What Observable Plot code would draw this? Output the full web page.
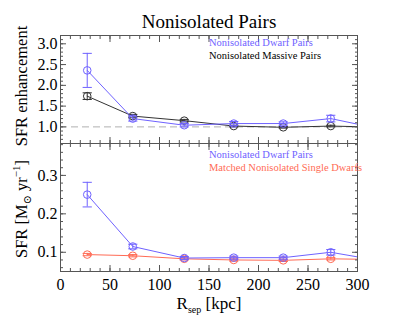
<!DOCTYPE html>
<html><head><meta charset="utf-8">
<script src="https://cdn.jsdelivr.net/npm/d3@7"></script>
<script src="https://cdn.jsdelivr.net/npm/@observablehq/plot@0.6"></script>
<style>
body{margin:0;background:#fff;}
#c{position:relative;width:402px;height:319px;font-family:'Liberation Serif','DejaVu Serif',serif;overflow:hidden;}
#c svg{position:absolute;left:0;overflow:visible;background:none;}
.t{position:absolute;white-space:nowrap;line-height:1;font-family:'Liberation Serif','DejaVu Serif',serif;}
</style></head><body><div id="c"></div>
<script>
// Data
const rsep = [27, 73, 125, 175, 225, 273, 327];
const dwarfEnh = [2.36, 1.20, 1.04, 1.08, 1.08, 1.20, 0.93];
const dwarfEnhErr = [0.41, 0.06, 0.04, 0.05, 0.04, 0.08, 0.05];
const massiveEnh = [1.74, 1.26, 1.15, 1.02, 0.99, 1.02, 0.99];
const massiveEnhErr = [0.08, 0.04, 0.03, 0.02, 0.02, 0.02, 0.02];
const dwarfSFR = [0.250, 0.115, 0.085, 0.086, 0.086, 0.100, 0.076];
const dwarfSFRErr = [0.032, 0.006, 0.004, 0.004, 0.004, 0.007, 0.004];
const singleSFR = [0.094, 0.091, 0.083, 0.080, 0.079, 0.083, 0.081];
const singleSFRErr = [0.003, 0.003, 0.003, 0.003, 0.003, 0.003, 0.003];
const xTicks = [0, 50, 100, 150, 200, 250, 300];
const topYTicks = [1.0, 1.5, 2.0, 2.5, 3.0];
const botYTicks = [0.1, 0.2, 0.3];

const BLUE = "#6f62ff", RED = "#ff6b55", BLACK = "#333", FRAME = "#555";
const FONT = "'Liberation Serif', 'DejaVu Serif', serif";

const rows = (ys, es) => rsep.map((x, i) => ({x, y: ys[i], lo: ys[i] - es[i], hi: ys[i] + es[i]}));
const cap = {draw(ctx, size) { const w = Math.sqrt(size) ; ctx.moveTo(-w, 0); ctx.lineTo(w, 0); }};

function series(data, color) {
  return [
    Plot.line(data, {x: "x", y: "y", stroke: color, strokeWidth: 1, clip: true}),
    Plot.ruleX(data, {x: "x", y1: "lo", y2: "hi", stroke: color, strokeWidth: 1, clip: true}),
    Plot.dot(data, {x: "x", y: "lo", symbol: cap, r: 2.6, stroke: color, strokeWidth: 1, clip: true}),
    Plot.dot(data, {x: "x", y: "hi", symbol: cap, r: 2.6, stroke: color, strokeWidth: 1, clip: true}),
    Plot.dot(data, {x: "x", y: "y", r: 3.8, stroke: color, fill: "none", strokeWidth: 1, clip: true})
  ];
}

function frameTicks(xMinor, yMajor, yMinor, showX) {
  const base = {stroke: FRAME, label: null, tickFormat: () => ""};
  return [
    Plot.axisX({...base, anchor: "bottom", ticks: xTicks, tickSize: -6}),
    Plot.axisX({...base, anchor: "bottom", ticks: xMinor, tickSize: -3}),
    Plot.axisX({...base, anchor: "top", ticks: xTicks, tickSize: -6}),
    Plot.axisX({...base, anchor: "top", ticks: xMinor, tickSize: -3}),
    Plot.axisY({...base, anchor: "left", ticks: yMajor, tickSize: -6}),
    Plot.axisY({...base, anchor: "left", ticks: yMinor, tickSize: -3}),
    Plot.axisY({...base, anchor: "right", ticks: yMajor, tickSize: -6}),
    Plot.axisY({...base, anchor: "right", ticks: yMinor, tickSize: -3}),
    Plot.axisY({anchor: "left", ticks: yMajor, tickSize: 0, tickPadding: 3, label: null,
      tickFormat: d3.format(".1f"), fontSize: 16, fill: "#000", fontFamily: FONT}),
    showX ? Plot.axisX({anchor: "bottom", ticks: xTicks, tickSize: 0, tickPadding: 7, label: null, fontSize: 16, fill: "#000", fontFamily: FONT}) : null,
    Plot.frame({stroke: FRAME, strokeWidth: 1})
  ];
}

const xMinor = d3.range(0, 301, 10);

const topPlot = Plot.plot({
  width: 402, height: 145,
  marginTop: 35, marginBottom: 2, marginLeft: 60, marginRight: 45,
  style: {fontFamily: FONT, background: "none"},
  x: {domain: [0, 300]},
  y: {domain: [0.6, 3.2]},
  marks: [
    Plot.ruleY([1], {stroke: "#b0b0b0", strokeDasharray: "7,4", strokeWidth: 1}),
    ...series(rows(massiveEnh, massiveEnhErr), BLACK),
    ...series(rows(dwarfEnh, dwarfEnhErr), BLUE),
    ...frameTicks(xMinor, topYTicks, d3.range(0.7, 3.21, 0.1).map(v => +v.toFixed(2)), false)
  ]
});
topPlot.style.top = "0px";

const botPlot = Plot.plot({
  width: 402, height: 178,
  marginTop: 2, marginBottom: 48, marginLeft: 60, marginRight: 45,
  style: {fontFamily: FONT, background: "none"},
  x: {domain: [0, 300]},
  y: {domain: [0.05, 0.383]},
  marks: [
    ...series(rows(singleSFR, singleSFRErr), RED),
    ...series(rows(dwarfSFR, dwarfSFRErr), BLUE),
    ...frameTicks(xMinor, botYTicks, d3.range(0.06, 0.381, 0.02).map(v => +v.toFixed(3)), true)
  ]
});
botPlot.style.top = "141px";

const c = document.getElementById("c");
c.append(botPlot, topPlot);

function txt(html, css) {
  const d = document.createElement("div");
  d.className = "t"; d.innerHTML = html; Object.assign(d.style, css); c.append(d); return d;
}
txt("Nonisolated Pairs", {left: "0px", width: "418px", textAlign: "center", top: "12px", fontSize: "19px"});
txt("Nonisolated Dwarf Pairs", {left: "209px", top: "38px", fontSize: "10.5px", color: BLUE});
txt("Nonisolated Massive Pairs", {left: "209px", top: "51px", fontSize: "10.5px", color: "#000"});
txt("Nonisolated Dwarf Pairs", {left: "209px", top: "150px", fontSize: "10.5px", color: BLUE});
txt("Matched Nonisolated Single Dwarfs", {left: "209px", top: "163px", fontSize: "10.5px", color: RED});
txt("R<sub style='font-size:10px'>sep</sub> [kpc]", {left: "0px", width: "418px", textAlign: "center", top: "295px", fontSize: "17px"});
const y1 = txt("SFR enhancement", {fontSize: "16.5px"});
y1.style.left = "22px"; y1.style.top = "86px"; y1.style.transform = "translate(-50%,-50%) rotate(-90deg)";
const y2 = txt("SFR [M<sub style='font-size:11px'>⊙</sub> yr<sup style='font-size:11px'>−1</sup>]", {fontSize: "16.5px"});
y2.style.left = "22px"; y2.style.top = "209px"; y2.style.transform = "translate(-50%,-50%) rotate(-90deg)";
</script></body></html>
